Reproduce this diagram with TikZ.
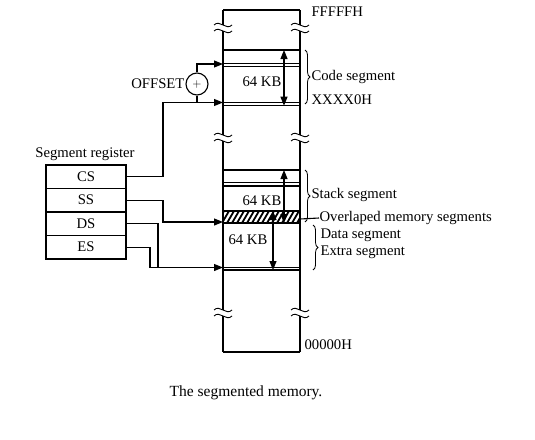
\documentclass[tikz,border=0pt]{standalone}
\usepackage{fontspec}
\setmainfont{Liberation Serif}
\usetikzlibrary{arrows.meta,decorations.pathreplacing}
\tikzset{
  txt/.style={font=\fontsize{14.7}{17}\selectfont, inner sep=0pt},
  regbox/.style={draw, line width=1.1pt, minimum width=80pt, minimum height=23.5pt, inner sep=0pt, font=\fontsize{14.7}{17}\selectfont},
  feed/.style={line width=1.1pt, -{Triangle[length=9pt,width=7pt]}},
  span/.style={line width=1.1pt, {Triangle[length=9pt,width=7pt]}-{Triangle[length=9pt,width=7pt]}},
  brc/.style={decorate, decoration={brace,amplitude=5pt}, line width=0.8pt},
}
% break mark on the memory column
\newcommand{\memcut}[2]{%
  \draw[line width=0.9pt] (#1-9,#2-3) .. controls (#1-3,#2-9) and (#1+3,#2+3) .. (#1+9,#2-3);
  \draw[line width=0.9pt] (#1-9,#2+3) .. controls (#1-3,#2-3) and (#1+3,#2+9) .. (#1+9,#2+3);
}

\begin{document}
\begin{tikzpicture}[x=1pt,y=-1pt,line width=1.1pt]
\useasboundingbox (0,0) rectangle (535,439);

% memory column
\draw (223,10) -- (300,10);
\draw (223,352) -- (300,352);
\foreach \x in {223,300} {
  \draw (\x,10) -- (\x,25) (\x,31) -- (\x,135) (\x,141) -- (\x,310) (\x,316) -- (\x,352);
  \memcut{\x}{28}
  \memcut{\x}{138}
  \memcut{\x}{313}
}
\foreach \y in {50,63.3,66.7,102.3,105.7,170,182.7,186,211,223,267.3,270}
  \draw (223,\y) -- (300,\y);
% overlapped part
\begin{scope}
\clip (223,211) rectangle (300,223);
\foreach \i in {212,217,...,302}
  \draw[line width=1.8pt] (\i,223) -- (\i+7,211);
\end{scope}
\draw (223,211) rectangle (300,223);

% sizes
\draw[span] (284,50) -- (284,105.7);
\draw[span] (284,170) -- (284,223);
\draw[span] (273,211) -- (273,270);
\node[txt] (kbcode) at (262,82) {64 KB};
\node[txt] (kbstack) at (262,201) {64 KB};
\node[txt] (kbdata) at (248,240) {64 KB};

% addresses and segment names
\node[txt, anchor=west] (top) at (311,12) {FFFFFH};
\node[txt, anchor=west] (bottom) at (304,345) {00000H};
\draw[brc] (305,50) -- (305,104);
\node[txt, anchor=west] (code) at (311,77) {Code segment};
\node[txt, anchor=west] (base) at (311,100) {XXXX0H};
\draw[brc] (305,170) -- (305,222);
\node[txt, anchor=west] (stack) at (311,195) {Stack segment};
\node[txt, anchor=west] (ovl) at (319,218) {Overlaped memory segments};
\draw (300,219) -- (ovl.west);
\draw[brc] (313,225) -- (313,270);
\node[txt, anchor=west] (data) at (320,235) {Data segment};
\node[txt, anchor=west] (extra) at (320,252) {Extra segment};

% segment registers
\node[txt] (reglbl) at (85,154) {Segment register};
\node[regbox] (cs) at (86,176.7) {CS};
\node[regbox] (ss) at (86,200.2) {SS};
\node[regbox] (ds) at (86,223.7) {DS};
\node[regbox] (es) at (86,247.2) {ES};

% adder
\node[draw, circle, minimum size=22pt, inner sep=0pt, font=\fontsize{12}{14}\selectfont] (adder) at (197,84) {$+$};
\node[txt, anchor=east] (offset) at (185,84) {OFFSET};

% entry points
\coordinate (inO) at (223,64);
\coordinate (inCS) at (223,102.5);
\coordinate (inSS) at (223,222);
\coordinate (inES) at (223,267.5);
\coordinate (jcs) at (163,102.5);
\coordinate (jss) at (163,222);
\coordinate (jds) at (158,267.5);
\coordinate (jes) at (150,267.5);

\draw[feed] (adder.north) |- (inO);
\draw (adder.south) -- (adder.south |- inCS);
\draw[feed] (cs.east) -| (jcs) -- (inCS);
\draw[feed] (ss.east) -| (jss) -- (inSS);
\draw[feed] (ds.east) -| (jds) -- (inES);
\draw (es.east) -| (jes) -- (jds);

\node[font=\fontsize{15.5}{18}\selectfont] (caption) at (246,393) {The segmented memory.};
\end{tikzpicture}
\end{document}
